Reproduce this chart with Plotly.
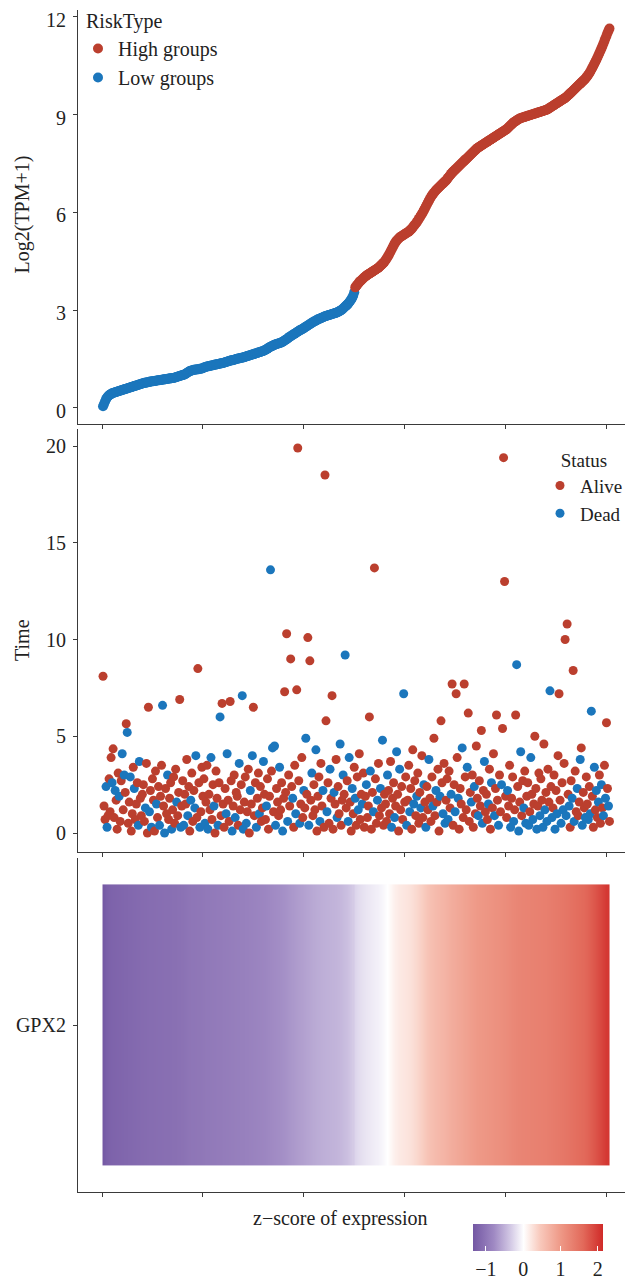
import plotly.graph_objects as go

# ---------------- data ----------------
# Log2(TPM+1) expression of GPX2, samples sorted ascending (x = 1..503)
expr_rows = [
    [0.05,0.12,0.20,0.27,0.32,0.36,0.39,0.41,0.43,0.45,0.46,0.47,0.48,0.49,0.50,0.51,0.52,0.53,0.54,0.55],
    [0.56,0.57,0.58,0.59,0.60,0.61,0.62,0.63,0.64,0.65,0.66,0.67,0.68,0.69,0.70,0.71,0.72,0.73,0.74,0.75],
    [0.76,0.77,0.77,0.78,0.79,0.79,0.80,0.81,0.81,0.82,0.82,0.83,0.83,0.84,0.84,0.85,0.85,0.86,0.86,0.87],
    [0.87,0.88,0.88,0.89,0.89,0.90,0.90,0.91,0.91,0.92,0.92,0.93,0.94,0.95,0.96,0.97,0.98,0.99,1.00,1.01],
    [1.02,1.03,1.05,1.07,1.09,1.11,1.13,1.14,1.15,1.16,1.17,1.17,1.18,1.18,1.19,1.19,1.20,1.20,1.21,1.22],
    [1.24,1.25,1.26,1.27,1.28,1.28,1.29,1.30,1.30,1.31,1.32,1.33,1.33,1.34,1.35,1.35,1.36,1.37,1.37,1.38],
    [1.39,1.40,1.41,1.42,1.43,1.44,1.45,1.46,1.46,1.47,1.48,1.49,1.50,1.51,1.52,1.52,1.53,1.54,1.54,1.55],
    [1.56,1.57,1.58,1.59,1.60,1.61,1.62,1.63,1.64,1.65,1.66,1.67,1.68,1.69,1.70,1.71,1.72,1.73,1.74,1.75],
    [1.77,1.78,1.80,1.82,1.84,1.86,1.88,1.89,1.91,1.92,1.94,1.95,1.96,1.97,1.98,1.99,2.00,2.01,2.03,2.05],
    [2.07,2.09,2.11,2.13,2.16,2.18,2.20,2.22,2.24,2.26,2.28,2.30,2.32,2.34,2.36,2.38,2.40,2.41,2.43,2.45],
    [2.47,2.49,2.51,2.53,2.55,2.57,2.59,2.61,2.63,2.65,2.66,2.68,2.70,2.72,2.73,2.74,2.76,2.77,2.78,2.80],
    [2.81,2.82,2.83,2.84,2.85,2.86,2.87,2.88,2.89,2.90,2.91,2.92,2.93,2.95,2.96,2.98,3.00,3.02,3.05,3.08],
    [3.11,3.14,3.17,3.20,3.24,3.28,3.33,3.38,3.45,3.55,3.70,3.74,3.78,3.82,3.86,3.89,3.92,3.95,3.98,4.01],
    [4.03,4.06,4.08,4.10,4.12,4.14,4.16,4.18,4.20,4.22,4.24,4.26,4.28,4.30,4.33,4.36,4.39,4.42,4.45,4.49],
    [4.53,4.58,4.63,4.68,4.74,4.80,4.86,4.92,4.98,5.04,5.09,5.13,5.17,5.20,5.23,5.25,5.27,5.29,5.31,5.33],
    [5.35,5.37,5.39,5.41,5.44,5.47,5.50,5.54,5.58,5.62,5.66,5.70,5.75,5.80,5.85,5.90,5.95,6.00,6.06,6.12],
    [6.18,6.24,6.30,6.36,6.42,6.47,6.52,6.56,6.60,6.64,6.68,6.71,6.74,6.77,6.80,6.83,6.86,6.89,6.92,6.95],
    [6.98,7.02,7.06,7.10,7.14,7.18,7.22,7.25,7.28,7.31,7.34,7.37,7.40,7.43,7.46,7.49,7.52,7.55,7.58,7.61],
    [7.64,7.67,7.70,7.73,7.76,7.79,7.82,7.85,7.88,7.91,7.94,7.97,7.99,8.01,8.03,8.05,8.07,8.09,8.11,8.13],
    [8.15,8.17,8.19,8.21,8.23,8.25,8.27,8.29,8.31,8.33,8.35,8.37,8.39,8.41,8.43,8.45,8.47,8.49,8.51,8.53],
    [8.55,8.58,8.61,8.64,8.67,8.70,8.73,8.76,8.78,8.80,8.82,8.84,8.86,8.88,8.89,8.90,8.91,8.92,8.93,8.94],
    [8.95,8.96,8.97,8.98,8.99,9.00,9.01,9.02,9.03,9.04,9.05,9.06,9.07,9.08,9.09,9.10,9.11,9.12,9.13,9.14],
    [9.15,9.17,9.19,9.21,9.23,9.25,9.27,9.29,9.31,9.33,9.35,9.37,9.39,9.41,9.43,9.45,9.47,9.49,9.51,9.53],
    [9.56,9.59,9.62,9.65,9.68,9.71,9.74,9.77,9.80,9.83,9.86,9.89,9.92,9.95,9.98,10.01,10.04,10.07,10.10,10.14],
    [10.18,10.22,10.27,10.32,10.38,10.44,10.50,10.56,10.62,10.68,10.75,10.82,10.89,10.96,11.03,11.10,11.18,11.26,11.34,11.42,11.50,11.57,11.64],
]

# Survival time of each sample (same order)
time_rows = [
    [8.1,1.4,0.7,2.4,0.3,0.9,2.8,1.1,3.9,2.6,4.35,0.8,2.2,1.7,0.2,3.1,1.9,0.6,2.7,4.1],
    [1.2,3.0,2.1,5.65,5.2,0.5,1.6,2.9,0.1,1.0,3.4,2.3,0.7,1.5,2.6,0.4,3.7,1.8,0.9,2.0],
    [2.5,0.6,1.3,3.6,0.0,6.5,1.1,2.2,0.3,2.8,1.7,0.1,3.2,1.5,0.8,2.4,0.4,1.9,3.5,6.6],
    [1.4,0.0,2.3,1.0,3.0,0.7,1.8,2.6,0.2,1.2,2.9,0.5,3.3,1.6,0.9,2.1,6.9,0.3,1.4,2.7],
    [0.4,2.0,1.5,3.8,0.9,2.4,0.1,1.7,3.1,0.6,2.2,1.3,4.0,0.8,8.5,2.6,0.3,1.1,3.4,1.9],
    [2.8,0.5,1.6,3.5,0.2,2.0,1.2,3.9,0.7,2.5,1.4,0.0,3.2,1.8,0.4,2.6,6.0,0.9,6.7,1.5],
    [0.3,2.3,1.0,4.1,1.7,0.6,6.8,2.7,0.1,1.4,3.0,0.8,2.1,1.9,0.4,3.6,1.2,2.5,7.1,0.2],
    [1.6,2.9,0.5,1.1,3.3,0.0,2.2,1.5,4.0,6.5,0.9,2.6,0.3,1.8,3.1,1.0,2.4,0.6,1.3,3.7],
    [2.0,0.7,1.4,2.8,0.2,1.9,13.6,3.2,4.4,1.1,4.5,0.4,2.3,1.6,0.9,3.4,1.2,2.6,0.1,1.8],
    [7.3,2.1,10.3,0.6,3.0,1.4,9.0,2.4,1.8,0.3,3.5,1.0,7.4,19.9,2.7,0.5,1.5,3.9,0.8,2.2],
    [1.3,4.9,2.0,10.1,0.4,8.9,1.7,3.1,0.9,2.5,1.2,4.3,0.1,1.9,2.9,0.6,3.6,1.4,2.2,0.3],
    [18.5,5.8,1.1,2.6,0.5,3.3,1.8,7.1,0.2,2.1,1.5,3.8,0.8,2.4,1.0,4.6,0.4,1.7,3.0,2.0],
    [9.2,1.3,2.7,0.6,3.9,1.6,0.1,2.3,1.0,3.4,1.8,0.4,2.9,1.2,4.1,0.7,2.0,1.5,3.1,0.3],
    [1.9,2.5,0.8,1.4,6.0,3.2,0.2,2.1,1.1,13.7,2.8,0.5,1.7,3.6,0.9,2.3,1.3,4.8,0.4,2.0],
    [1.5,0.6,3.0,2.2,1.0,3.7,0.3,1.8,2.6,0.8,1.4,4.2,2.0,0.1,3.3,1.2,2.4,0.7,7.2,1.6],
    [2.9,0.4,1.7,3.5,1.1,2.3,0.2,4.3,1.5,2.7,0.9,1.9,3.1,0.5,2.1,1.3,4.0,0.8,2.5,1.6],
    [0.3,2.4,1.2,3.8,1.8,0.6,2.9,1.4,4.9,0.9,2.2,1.6,3.3,0.1,1.9,5.8,2.6,1.0,3.6,0.5],
    [1.7,2.8,0.7,3.2,1.3,2.0,7.7,0.4,2.5,1.1,7.2,3.9,1.8,0.2,2.3,1.5,4.4,0.8,7.7,2.9],
    [1.2,3.4,6.2,0.6,2.1,1.6,3.0,0.3,2.4,1.0,4.5,1.8,0.9,2.7,1.4,5.3,0.5,2.2,3.7,1.1],
    [2.0,0.7,1.5,3.3,0.2,2.6,1.3,4.1,0.9,2.3,6.1,1.7,0.4,3.0,1.1,2.5,5.4,19.4,13.0,1.9],
    [0.8,2.2,1.4,3.5,0.3,1.8,2.9,0.6,1.2,6.1,8.7,2.4,0.1,1.6,4.2,0.9,2.7,1.3,3.2,0.5],
    [1.9,2.6,0.4,1.1,3.9,2.0,0.7,1.5,5.0,2.3,0.2,1.4,3.1,0.9,2.8,1.7,0.3,4.6,1.2,2.1],
    [0.6,3.3,1.6,7.35,2.4,0.8,1.3,3.0,0.2,2.2,1.0,4.0,7.2,1.7,0.5,2.6,1.2,3.6,10.0,0.9],
    [10.8,2.0,1.4,0.3,2.7,1.8,8.4,0.6,3.2,1.1,2.3,0.9,1.6,3.8,4.4,0.4,2.1,1.3,0.8,2.9],
    [1.5,0.7,2.4,1.0,6.3,1.9,0.3,3.4,1.2,2.2,0.8,1.6,3.0,0.5,2.5,1.3,0.9,3.5,1.8,5.7,2.3,1.4,0.6],
]

# Vital status of each sample: A = Alive, D = Dead
status_rows = [
    "AAADDAAAADAADAAADAAD",
    "ADAADAADAAADAAADDAAA",
    "AADAAADADAAAADAADAAD",
    "ADAADAAADAAAADAAADAA",
    "DAAADAADAAADDAAADAAA",
    "ADAADAADAADAAADADAAA",
    "AADDAAAADAADAAADAADD",
    "AADAAADADAAADAADAAAD",
    "AADAAADADADDAAADAADA",
    "AAADAAAADAADAAADAAAD",
    "ADAADAADAAADAAADAADA",
    "AADAADAAADAADAADAADA",
    "DAADDAADAADAADAAADAA",
    "ADAAADAADAAADAADADAA",
    "AADAAADAADADAADAAADA",
    "ADAADAAADAADAAADAADA",
    "DAADAAADAADAAADAADAD",
    "AADAADAAADAADAAADAAA",
    "ADAAADAADAAADAAADADA",
    "AADAADAADAAADAADAAAA",
    "ADAADAADAADADADAADAD",
    "AADADADAAADAADAADADA",
    "DAADADAADADAAADADAAD",
    "AADAADADAADAADADAADA",
    "ADADDAADADADAADADADAADA",
]

N_LOW = 250                      # first 250 sorted samples = Low groups
GENE = "GPX2"
X_TICKS = [0, 100, 200, 300, 400, 500]
Y1_TICKS = [0, 3, 6, 9, 12]
Y2_TICKS = [0, 5, 10, 15, 20]
CB_TICKS = [-1, 0, 1, 2]

expr = [v for r in expr_rows for v in r]
times = [v for r in time_rows for v in r]
status_code = "".join(status_rows)
assert len(expr) == len(times) == len(status_code), (len(expr), len(times), len(status_code))
n = len(expr)
xs = list(range(1, n + 1))
status = ["Alive" if c == "A" else "Dead" for c in status_code]

mean = sum(expr) / n
sd = (sum((v - mean) ** 2 for v in expr) / (n - 1)) ** 0.5
zscore = [(v - mean) / sd for v in expr]

# ---------------- style ----------------
OFF = 8                      # page body margin of the exported html
W, H = 633 - OFF, 1282 - OFF
RED = "#BB3F2E"
BLUE = "#1B76BC"
FONT = "Liberation Serif"
TXT = "#222222"
AX = "#3a3a3a"
FS = 20


def py(p):
    return 1 - (p - OFF) / H


def px(p):
    return (p - OFF) / W


ZMIN, ZMAX = -1.36, 2.13


def zpos(z):
    return (z - ZMIN) / (ZMAX - ZMIN)


colorscale = [
    [0.0, "#7357A3"],
    [zpos(-0.8), "#9F89C3"],
    [zpos(-0.35), "#D3C9E5"],
    [zpos(0.0), "#FFFFFF"],
    [zpos(0.45), "#F8C8BB"],
    [zpos(1.0), "#EE9886"],
    [zpos(1.6), "#E2695A"],
    [1.0, "#D02A28"],
]

fig = go.Figure()

# ---- panel 1: expression curve ----
fig.add_trace(go.Scatter(x=xs[:N_LOW], y=expr[:N_LOW], mode="markers", name="Low groups",
                         marker=dict(color=BLUE, size=10, line=dict(width=0)),
                         legend="legend", legendrank=2, xaxis="x", yaxis="y"))
fig.add_trace(go.Scatter(x=xs[N_LOW:], y=expr[N_LOW:], mode="markers", name="High groups",
                         marker=dict(color=RED, size=10, line=dict(width=0)),
                         legend="legend", legendrank=1, xaxis="x", yaxis="y"))

# ---- panel 2: survival time scatter (drawn in sample order) ----
fig.add_trace(go.Scatter(x=xs, y=times, mode="markers", showlegend=False,
                         marker=dict(color=[RED if s == "Alive" else BLUE for s in status],
                                     size=9, line=dict(width=0)),
                         xaxis="x2", yaxis="y2"))
fig.add_trace(go.Scatter(x=[None], y=[None], mode="markers", name="Alive",
                         marker=dict(color=RED, size=9), legend="legend2",
                         xaxis="x2", yaxis="y2"))
fig.add_trace(go.Scatter(x=[None], y=[None], mode="markers", name="Dead",
                         marker=dict(color=BLUE, size=9), legend="legend2",
                         xaxis="x2", yaxis="y2"))

# ---- panel 3: z-score heatmap ----
fig.add_trace(go.Heatmap(
    z=[zscore], x=xs, y=[GENE], colorscale=colorscale, zmin=ZMIN, zmax=ZMAX,
    xaxis="x3", yaxis="y3",
    colorbar=dict(orientation="h", x=px(537.5), xanchor="center",
                  y=py(1224), yanchor="top", len=130, lenmode="pixels",
                  thickness=27, thicknessmode="pixels", outlinewidth=0,
                  tickvals=CB_TICKS, ticks="inside", tickcolor="white", ticklen=5,
                  tickwidth=1, xpad=0, ypad=0,
                  tickfont=dict(family=FONT, size=FS, color=TXT)),
))

xrange = [-23.8, 526.3]
xdom = [px(78), 1.0]
xcommon = dict(domain=xdom, range=xrange, tickvals=X_TICKS, showticklabels=False,
               showline=True, linecolor=AX, linewidth=1.1, ticks="outside",
               ticklen=4, tickwidth=1.1, tickcolor=AX, showgrid=False, zeroline=False)
ycommon = dict(showline=True, linecolor=AX, linewidth=1.1, ticks="outside",
               ticklen=4, tickwidth=1.1, tickcolor=AX, showgrid=False, zeroline=False,
               tickfont=dict(family=FONT, size=FS, color=TXT), ticklabelstandoff=3,
               ticklabeloverflow="allow")
lfont = dict(family=FONT, size=20, color=TXT)
lfont2 = dict(family=FONT, size=19, color=TXT)

fig.update_layout(
    width=W, height=H,
    margin=dict(l=0, r=0, t=0, b=0, autoexpand=False),
    paper_bgcolor="white", plot_bgcolor="white",
    xaxis=dict(**xcommon, anchor="y"),
    yaxis=dict(**ycommon, domain=[py(423.6), py(9.6)], range=[-0.48, 12.22],
               tickvals=Y1_TICKS, anchor="x", ticklabelshift=3),
    xaxis2=dict(**xcommon, anchor="y2"),
    yaxis2=dict(**ycommon, domain=[py(852.4), py(428.6)], range=[-1.0, 20.9],
                tickvals=Y2_TICKS, anchor="x2"),
    xaxis3=dict(**xcommon, anchor="y3"),
    yaxis3=dict(**ycommon, domain=[py(1192), py(858)], range=[-0.594, 0.594],
                anchor="x3"),
    # RiskType legend: entries here, its title drawn as an annotation just above
    legend=dict(x=px(78), y=py(29), xanchor="left", yanchor="top",
                font=lfont, bgcolor="rgba(0,0,0,0)", borderwidth=0,
                tracegroupgap=0, itemclick=False),
    legend2=dict(title=dict(text="Status", font=lfont2, side="top center"),
                 x=px(540), y=py(442), xanchor="left", yanchor="top",
                 font=lfont2, bgcolor="rgba(0,0,0,0)", borderwidth=0,
                 tracegroupgap=0, itemclick=False),
    annotations=[
        dict(text="RiskType", x=px(84), y=py(21), xref="paper", yref="paper",
             xanchor="left", yanchor="middle", showarrow=False, font=lfont),
        dict(text="Log2(TPM+1)", x=0, y=py(215), xref="paper", yref="paper",
             xanchor="left", yanchor="middle",
             textangle=-90, showarrow=False, font=dict(family=FONT, size=FS, color=TXT)),
        dict(text="Time", x=px(22), y=py(640), xref="paper", yref="paper",
             xanchor="center", yanchor="middle",
             textangle=-90, showarrow=False, font=dict(family=FONT, size=FS, color=TXT)),
        dict(text="z\u2212score of expression", x=px(340), y=py(1218), xref="paper",
             yref="paper", xanchor="center", yanchor="middle", showarrow=False,
             font=dict(family=FONT, size=FS, color=TXT)),
    ],
)

fig.write_html("out.html")
